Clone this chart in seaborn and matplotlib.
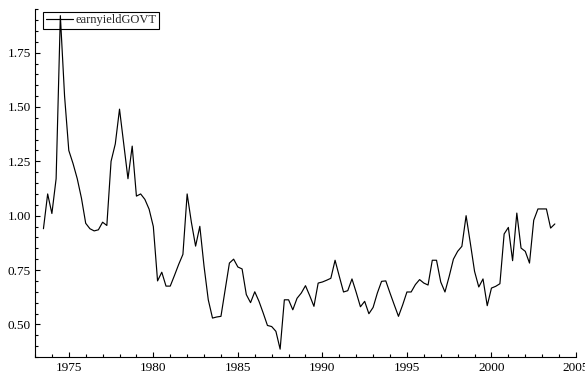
import numpy as np
import pandas as pd
import matplotlib
matplotlib.use("Agg")
import matplotlib.pyplot as plt
from matplotlib.ticker import MultipleLocator, FormatStrFormatter
import seaborn as sns

# Quarterly series, 1973Q3 .. 2003Q4
start_year = 1973.5
series_name = "earnyieldGOVT"
earnyield_govt = [
    0.94, 1.10, 1.01, 1.17, 1.92, 1.55, 1.30, 1.24, 1.17, 1.08,
    0.965, 0.94, 0.93, 0.935, 0.97, 0.955, 1.25, 1.33, 1.49, 1.33,
    1.17, 1.32, 1.09, 1.10, 1.075, 1.03, 0.95, 0.70, 0.74, 0.676,
    0.676, 0.725, 0.776, 0.822, 1.10, 0.97, 0.86, 0.951, 0.767, 0.613,
    0.529, 0.534, 0.537, 0.66, 0.782, 0.80, 0.764, 0.755, 0.637, 0.60,
    0.65, 0.606, 0.552, 0.495, 0.49, 0.468, 0.386, 0.613, 0.613, 0.567,
    0.62, 0.644, 0.678, 0.632, 0.583, 0.69, 0.695, 0.703, 0.712, 0.795,
    0.721, 0.649, 0.655, 0.709, 0.647, 0.581, 0.606, 0.549, 0.578, 0.644,
    0.698, 0.70, 0.644, 0.59, 0.537, 0.59, 0.649, 0.649, 0.683, 0.706,
    0.69, 0.681, 0.795, 0.795, 0.695, 0.649, 0.721, 0.80, 0.836, 0.859,
    1.00, 0.874, 0.744, 0.672, 0.709, 0.586, 0.667, 0.675, 0.687, 0.916,
    0.946, 0.793, 1.012, 0.851, 0.836, 0.782, 0.979, 1.031, 1.031, 1.031,
    0.943, 0.962,
]
dates = start_year + np.arange(len(earnyield_govt)) / 4.0
df = pd.DataFrame({"date": dates, series_name: earnyield_govt})

sns.set_style("ticks")
plt.rcParams["font.family"] = ["Liberation Serif", "DejaVu Serif"]
plt.rcParams["font.size"] = 9.5

fig = plt.figure(figsize=(5.85, 3.74), dpi=100)
ax = fig.add_axes([0.0598, 0.0455, 0.9248, 0.930])

sns.lineplot(data=df, x="date", y=series_name, ax=ax, color="black",
             linewidth=0.85, label=series_name)

ax.set_xlim(1973.0, 2005.0)
ax.set_ylim(0.35, 1.95)
ax.set_xlabel("")
ax.set_ylabel("")

ax.xaxis.set_major_locator(MultipleLocator(5))
ax.xaxis.set_minor_locator(MultipleLocator(1))
ax.yaxis.set_major_locator(MultipleLocator(0.25))
ax.yaxis.set_minor_locator(MultipleLocator(0.05))
ax.yaxis.set_major_formatter(FormatStrFormatter("%.2f"))
ax.xaxis.set_major_formatter(FormatStrFormatter("%d"))

ax.tick_params(axis="both", which="major", direction="in", length=3.5,
               width=0.8, color="black", labelsize=9.5, labelcolor="black")
ax.tick_params(axis="both", which="minor", direction="in", length=2,
               width=0.8, color="black")
ax.tick_params(axis="x", which="major", pad=3.5)
ax.tick_params(axis="y", which="major", pad=3)

for side in ("top", "right"):
    ax.spines[side].set_visible(False)
for side in ("left", "bottom"):
    ax.spines[side].set_linewidth(0.8)
    ax.spines[side].set_color("black")

# Unfilled, square-cornered legend box at the top left
leg = ax.legend(loc="upper left", bbox_to_anchor=(43 / 585, 1 - 12 / 374),
                bbox_transform=fig.transFigure, borderaxespad=0,
                frameon=True, fancybox=False, facecolor="none",
                edgecolor="black", framealpha=1, fontsize=9,
                handlelength=2.2, handletextpad=0.2, borderpad=0.2)
leg.get_frame().set_linewidth(0.8)

fig.savefig("out.png", dpi=100)
